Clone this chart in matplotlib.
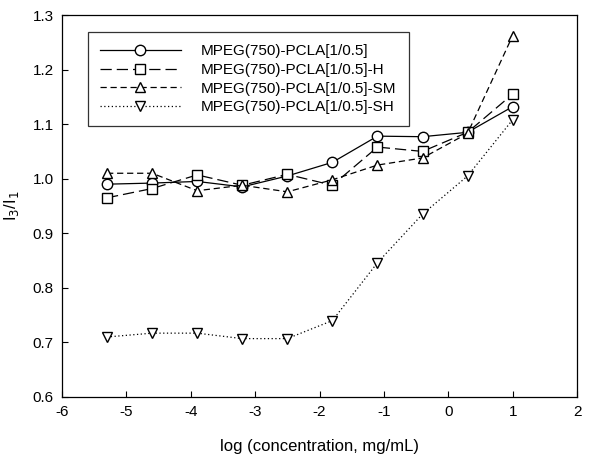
import numpy as np
import matplotlib
matplotlib.use('Agg')
import matplotlib.pyplot as plt

plt.rcParams['font.family'] = ['Liberation Sans', 'DejaVu Sans']
plt.rcParams['axes.unicode_minus'] = False

# log concentration (mg/mL)
logc = [-5.3, -4.6, -3.9, -3.2, -2.5, -1.8, -1.1, -0.4, 0.3, 1.0]

# I3/I1 ratios
s_plain = [0.990, 0.992, 0.995, 0.985, 1.005, 1.030, 1.078, 1.077, 1.085, 1.132]
s_h = [0.965, 0.982, 1.007, 0.988, 1.008, 0.988, 1.058, 1.050, 1.085, 1.155]
s_sm = [1.010, 1.010, 0.978, 0.988, 0.976, 0.998, 1.025, 1.038, 1.083, 1.262]
s_sh = [0.710, 0.717, 0.717, 0.707, 0.707, 0.740, 0.846, 0.935, 1.005, 1.108]

labels = ['MPEG(750)-PCLA[1/0.5]', 'MPEG(750)-PCLA[1/0.5]-H',
          'MPEG(750)-PCLA[1/0.5]-SM', 'MPEG(750)-PCLA[1/0.5]-SH']

fig = plt.figure(figsize=(6.06, 4.59), dpi=100)
ax = fig.add_axes([62/606, 1-397/459, (577-62)/606, (397-15)/459])

styles = [
    (s_plain, 'o', '-'),
    (s_h, 's', (0, (9, 4))),
    (s_sm, '^', (0, (5, 3))),
    (s_sh, 'v', (0, (1, 2))),
]
for (y, m, ls), lab in zip(styles, labels):
    ax.plot(logc, y, color='black', linestyle=ls, linewidth=0.9, marker=m,
            markersize=7.5, markerfacecolor='white', markeredgecolor='black',
            markeredgewidth=1.0, label=lab)

ax.set_xlim(-6, 2)
ax.set_ylim(0.6, 1.3)
ax.set_xticks(np.arange(-6, 3, 1))
ax.set_yticks(np.arange(0.6, 1.31, 0.1))
ax.set_yticklabels([f'{v:.1f}' for v in np.arange(0.6, 1.31, 0.1)])
ax.tick_params(direction='in', length=4, labelsize=11, width=0.8, pad=6)
for sp in ax.spines.values():
    sp.set_linewidth(0.9)

ax.set_xlabel('log (concentration, mg/mL)', fontsize=12, labelpad=14)
ax.set_ylabel('I$_3$/I$_1$', fontsize=12, labelpad=8)

leg = ax.legend(loc='upper left', bbox_to_anchor=(0.05, 0.955), handlelength=5.3,
                fontsize=11, frameon=True, fancybox=False, edgecolor='black',
                borderpad=0.8, labelspacing=0.3, handletextpad=1.3,
                borderaxespad=0)
leg.get_frame().set_linewidth(0.9)

fig.savefig('out.png', dpi=100)
